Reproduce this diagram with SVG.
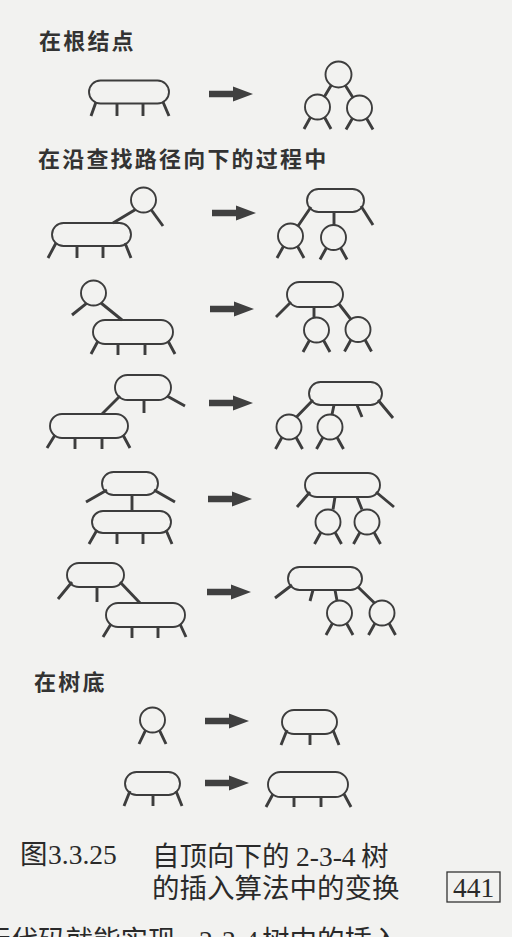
<svg xmlns="http://www.w3.org/2000/svg" width="512" height="937" viewBox="0 0 512 937">
<style>
.n{fill:none;stroke:#3d3d3d;stroke-width:1.9}
.l{fill:none;stroke:#3d3d3d;stroke-width:2.9}
.h{font-family:"Noto Sans CJK SC","Noto Sans",sans-serif;font-size:22px;font-weight:bold;fill:#333;letter-spacing:2.2px}
.c{font-family:"Liberation Serif","Noto Sans CJK SC",serif;font-size:27.5px;fill:#2a2a2a}
.a{fill:#404040}
</style>
<defs>
<path id="arr" d="M0,-3.2 H24 V-7.5 L44,0 L24,7.5 V3.2 H0 Z"/>
</defs>
<rect width="512" height="937" fill="#f2f2f0"/>

<g id="labels">
<text class="h" x="39" y="49">在根结点</text>
<text class="h" x="38" y="166.5">在沿查找路径向下的过程中</text>
<text class="h" x="34" y="689.5">在树底</text>
</g>

<!-- Row 1 -->
<g id="r1-l-4node">
<rect class="n" x="89" y="80.5" width="80" height="23" rx="11.5"/>
<path class="l" d="M96,102 L91,116 M117,104 V116 M143,104 V116 M163,102 L169,116"/>
</g>
<g id="r1-r-a"><circle class="n" cx="338.5" cy="74.5" r="13"/></g>
<g id="r1-r-b"><circle class="n" cx="317.5" cy="107" r="12.5"/>
<path class="l" d="M310.5,117.3 L304,129 M324.5,117.3 L331,129"/></g>
<g id="r1-r-c"><circle class="n" cx="359.5" cy="108" r="12.5"/>
<path class="l" d="M352.5,118.3 L346,129.5 M366.5,118.3 L373,129.5"/></g>

<!-- Row 2 -->
<g id="r2-l-2node"><circle class="n" cx="143.5" cy="200" r="12.5"/>
<path class="l" d="M151,209.5 L163,226"/></g>
<g id="r2-l-4node"><rect class="n" x="52" y="223" width="79" height="23" rx="11.5"/>
<path class="l" d="M56,243 L48,258 M77,246 V258 M103,246 V258 M125,243 L131,258"/></g>
<g id="r2-r-3node"><rect class="n" x="307" y="189" width="57" height="23" rx="11.5"/>
<path class="l" d="M361,206 L373,225"/></g>
<g id="r2-r-d"><circle class="n" cx="290.5" cy="236" r="12.5"/>
<path class="l" d="M283.5,246.3 L277,258 M297.5,246.3 L304,258"/></g>
<g id="r2-r-e"><circle class="n" cx="333.5" cy="237.5" r="12.5"/>
<path class="l" d="M326.5,247.8 L320,259.5 M340.5,247.8 L347,259.5"/></g>

<!-- Row 3 -->
<g id="r3-l-2node"><circle class="n" cx="93.5" cy="293" r="12.5"/>
<path class="l" d="M86.5,303.3 L72,315"/></g>
<g id="r3-l-4node"><rect class="n" x="93" y="320" width="80" height="24" rx="12"/>
<path class="l" d="M98,341 L91,354 M118,344 V355 M145,344 V355 M168,341 L175,354"/></g>
<g id="r3-r-3node"><rect class="n" x="287" y="282" width="56" height="25" rx="12.5"/>
<path class="l" d="M291,302 L276,317"/></g>
<g id="r3-r-f"><circle class="n" cx="316.5" cy="330" r="12.5"/>
<path class="l" d="M309.5,340.3 L303,352 M323.5,340.3 L330,352"/></g>
<g id="r3-r-g"><circle class="n" cx="358" cy="329.5" r="12.5"/>
<path class="l" d="M351,339.8 L344.5,351.5 M365,339.8 L371.5,351.5"/></g>

<!-- Row 4 -->
<g id="r4-l-3node"><rect class="n" x="115" y="375" width="56" height="25" rx="12.5"/>
<path class="l" d="M144,400 V413 M167,396 L185,406"/></g>
<g id="r4-l-4node"><rect class="n" x="50" y="414" width="78" height="24" rx="12"/>
<path class="l" d="M55,435 L47,448 M75,438 V449 M102,438 V449 M123,435 L130,448"/></g>
<g id="r4-r-4node"><rect class="n" x="309" y="382" width="73" height="23" rx="11.5"/>
<path class="l" d="M357,405 L362,417 M378,400 L393,418"/></g>
<g id="r4-r-h"><circle class="n" cx="289" cy="427" r="12.5"/>
<path class="l" d="M282,437.3 L275.5,449 M296,437.3 L302.5,449"/></g>
<g id="r4-r-i"><circle class="n" cx="330" cy="427" r="12.5"/>
<path class="l" d="M323,437.3 L316.5,449 M337,437.3 L343.5,449"/></g>

<!-- Row 5 -->
<g id="r5-l-3node"><rect class="n" x="102" y="472" width="56" height="23" rx="11.5"/>
<path class="l" d="M107,490 L86,502 M154,490 L175,502"/></g>
<g id="r5-l-4node"><rect class="n" x="92" y="511" width="79" height="22" rx="11"/>
<path class="l" d="M97,530 L89,544 M117,533 V544 M143,533 V544 M166,530 L172,544"/></g>
<g id="r5-r-4node"><rect class="n" x="305" y="473" width="75" height="24" rx="12"/>
<path class="l" d="M310,492 L297,507 M376,492 L394,507"/></g>
<g id="r5-r-j"><circle class="n" cx="328" cy="522" r="12.5"/>
<path class="l" d="M321,532.3 L314.5,544 M335,532.3 L341.5,544"/></g>
<g id="r5-r-k"><circle class="n" cx="367" cy="522" r="12.5"/>
<path class="l" d="M360,532.3 L353.5,544 M374,532.3 L380.5,544"/></g>

<!-- Row 6 -->
<g id="r6-l-3node"><rect class="n" x="67" y="563" width="57" height="24" rx="12"/>
<path class="l" d="M72,582 L58,599 M97,587 V602"/></g>
<g id="r6-l-4node"><rect class="n" x="106" y="603" width="79" height="24" rx="12"/>
<path class="l" d="M111,624 L103,637 M132,627 V638 M158,627 V638 M180,624 L186,637"/></g>
<g id="r6-r-4node"><rect class="n" x="288" y="567" width="74" height="23" rx="11.5"/>
<path class="l" d="M292,585 L275,598 M313,590 L310,601"/></g>
<g id="r6-r-l"><circle class="n" cx="339.5" cy="613" r="12.5"/>
<path class="l" d="M332.5,623.3 L326,635 M346.5,623.3 L353,635"/></g>
<g id="r6-r-m"><circle class="n" cx="382" cy="613" r="12.5"/>
<path class="l" d="M375,623.3 L368.5,635 M389,623.3 L395.5,635"/></g>

<!-- Row 7 -->
<g id="r7-l-2node"><circle class="n" cx="152.5" cy="720" r="12.5"/>
<path class="l" d="M145.5,730.3 L139,744 M159.5,730.3 L166,744"/></g>
<g id="r7-r-3node"><rect class="n" x="282" y="710" width="55" height="24" rx="12"/>
<path class="l" d="M287,730 L281,745 M310,734 V745 M333,730 L339,745"/></g>

<!-- Row 8 -->
<g id="r8-l-3node"><rect class="n" x="125" y="772" width="55" height="23" rx="11.5"/>
<path class="l" d="M130,791 L124,806 M153,795 V806 M176,791 L182,806"/></g>
<g id="r8-r-4node"><rect class="n" x="268" y="772" width="80" height="25" rx="12.5"/>
<path class="l" d="M273,794 L266,807 M294,797 V807 M321,797 V807 M344,794 L351,807"/></g>

<g id="connectors">
<path class="l" d="M331.2,85.3 L324.5,96.6 M345.4,85.5 L352.9,97.4"/>
<path class="l" d="M135.5,209.5 L113,223"/>
<path class="l" d="M311,207 L298,226 M334,212 V225"/>
<path class="l" d="M101,303 L122,320"/>
<path class="l" d="M314,307 V317.5 M339,304 L351,319.5"/>
<path class="l" d="M120,396 L102,414"/>
<path class="l" d="M313,400 L296.5,417 M334,405 L332,414.5"/>
<path class="l" d="M132,495 V511"/>
<path class="l" d="M335,497 L333,509.5 M357,497 L362,509.5"/>
<path class="l" d="M120,582 L140,603"/>
<path class="l" d="M335,590 L337,600.5 M358,587 L374.5,603"/>
<use href="#arr" class="a" x="209" y="94"/>
<use href="#arr" class="a" x="212" y="213"/>
<use href="#arr" class="a" x="210" y="309"/>
<use href="#arr" class="a" x="209" y="403"/>
<use href="#arr" class="a" x="208" y="499"/>
<use href="#arr" class="a" x="207" y="592"/>
<use href="#arr" class="a" x="205" y="721"/>
<use href="#arr" class="a" x="205" y="783"/>
</g>

<g id="caption">
<text class="c" x="20" y="864" font-size="21">图</text>
<text class="c" x="48" y="864" font-size="27">3.3.25</text>
<text class="c" x="152" y="866">自顶向下的</text>
<text class="c" x="296" y="866">2-3-4</text>
<text class="c" x="361" y="866">树</text>
<text class="c" x="152" y="898">的插入算法中的变换</text>
<rect x="447" y="872" width="53" height="30" fill="none" stroke="#333" stroke-width="1.3"/>
<text class="c" x="473.5" y="897" text-anchor="middle" font-size="28">441</text>
</g>

<g id="bottom-text">
<text class="c" x="-17" y="950" font-size="30">行代码就能实现</text>
<text class="c" x="199" y="950" font-size="28">2-3-4</text>
<text class="c" x="262" y="950" font-size="30">树中的插入</text>
</g>
</svg>
